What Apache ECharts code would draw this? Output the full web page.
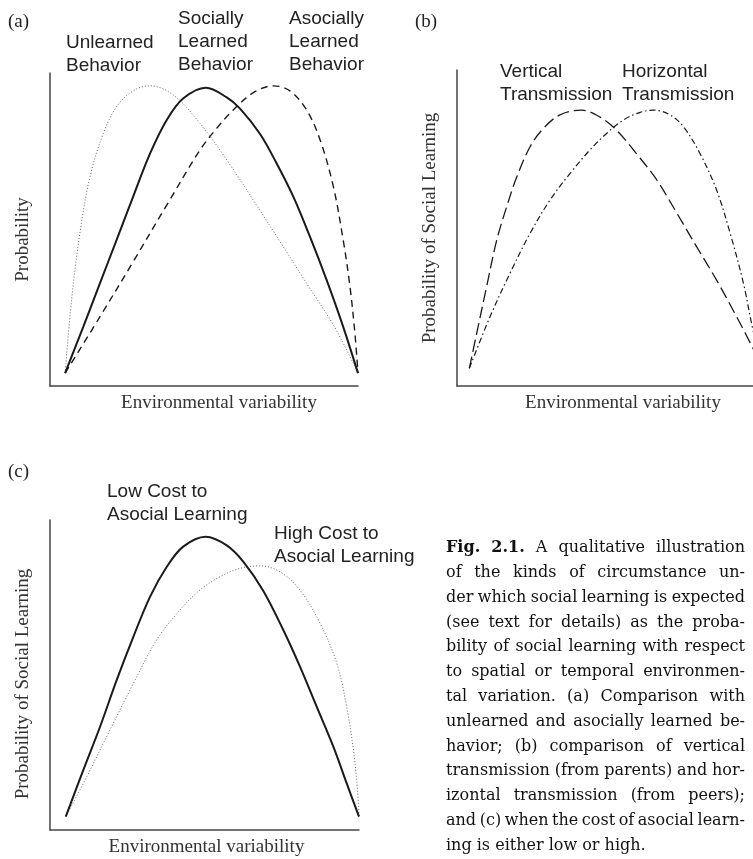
<!DOCTYPE html>
<html>
<head>
<meta charset="utf-8">
<script src="https://cdn.jsdelivr.net/npm/echarts@6/dist/echarts.min.js"></script>
<style>
  html, body { margin: 0; padding: 0; background: #fff; }
  #chart { width: 753px; height: 859px; }
</style>
</head>
<body>
<div id="chart"></div>
<script>
// ---------- Panel (a) ----------
const socialLearned = [[4.9,4.1],[10.8,18.9],[16.2,32.8],[21.6,46.6],[27.0,60.5],[32.5,74.3],[37.9,85.0],[43.3,91.9],[50.6,95.3],[57.4,92.2],[61.7,88.6],[68.2,80.5],[73.6,71.1],[79.0,60.5],[84.4,47.7],[89.8,33.9],[95.2,18.9],[100,4.1]];
const unlearned = [[4.9,4.1],[7.0,27.5],[9.7,48.8],[13.0,66.9],[17.3,80.7],[21.6,89.2],[27.0,94.3],[32.5,95.9],[40.0,93.0],[48.7,83.9],[57.4,72.2],[66.0,59.4],[74.7,46.1],[83.3,32.8],[92.0,19.5],[98.5,7.2],[100,4.1]];
const asociallyLearned = [[4.9,4.1],[16.2,22.1],[27.0,39.7],[37.9,57.8],[48.7,75.4],[54.1,82.3],[59.5,88.2],[66.0,93.7],[72.5,95.9],[77.9,94.3],[83.3,88.2],[87.7,78.6],[92.0,63.7],[95.2,46.6],[97.4,31.7],[99.0,16.8],[100,4.1]];
// ---------- Panel (b) ----------
const verticalTransmission = [[4.0,5.6],[6.4,16.7],[9.6,31.4],[12.9,46.2],[16.1,56.7],[19.4,66.2],[23.7,75.7],[28.0,81.5],[33.4,85.8],[40.4,87.3],[46.4,85.1],[51.8,80.9],[58.3,73.4],[64.8,65.2],[71.3,54.7],[77.7,44.1],[84.2,33.5],[90.7,21.9],[96.0,11.9],[99.1,5.6]];
const horizontalTransmission = [[4.0,5.6],[10.7,21.9],[17.2,35.7],[23.7,48.3],[30.2,58.9],[36.7,67.3],[43.1,74.7],[48.6,80.0],[54.0,84.2],[59.4,86.6],[63.7,87.3],[69.1,85.8],[73.4,82.1],[78.8,73.6],[84.2,62.0],[88.6,48.3],[92.9,32.5],[96.0,17.7],[99.1,5.6]];
// ---------- Panel (c) ----------
const lowCost = [[5.1,4.3],[10.8,19.4],[16.2,33.3],[21.6,48.4],[27.0,62.4],[32.4,75.3],[37.8,84.9],[43.1,91.4],[50.4,94.6],[57.2,91.8],[62.6,86.5],[69.0,77.2],[75.5,64.5],[80.9,52.7],[86.3,39.8],[91.7,26.9],[96.0,15.1],[100,4.3]];
const highCost = [[5.1,4.3],[11.9,17.2],[19.4,32.3],[27.0,47.3],[34.5,61.3],[42.1,71.0],[48.5,77.4],[55.0,81.7],[61.5,84.4],[68.0,85.2],[74.4,83.3],[80.9,77.4],[87.4,66.7],[92.8,53.8],[96.0,39.8],[98.2,25.8],[99.5,12.9],[100,4.3]];

const panelLabels = ['(a)', '(b)', '(c)'];
const xTitle = 'Environmental variability';
const yTitles = ['Probability', 'Probability of Social Learning', 'Probability of Social Learning'];
const curveLabelsA = [['Unlearned', 'Behavior'], ['Socially', 'Learned', 'Behavior'], ['Asocially', 'Learned', 'Behavior']];
const curveLabelsB = [['Vertical', 'Transmission'], ['Horizontal', 'Transmission']];
const curveLabelsC = [['Low Cost to', 'Asocial Learning'], ['High Cost to', 'Asocial Learning']];
const captionLines = [
  'Fig. 2.1. A qualitative illustration',
  'of the kinds of circumstance un-',
  'der which social learning is expected',
  '(see text for details) as the proba-',
  'bility of social learning with respect',
  'to spatial or temporal environmen-',
  'tal variation. (a) Comparison with',
  'unlearned and asocially learned be-',
  'havior; (b) comparison of vertical',
  'transmission (from parents) and hor-',
  'izontal transmission (from peers);',
  'and (c) when the cost of asocial learn-',
  'ing is either low or high.'
];

const SERIF = '"Liberation Serif", "Times New Roman", serif';
const SANS = '"Liberation Sans", Arial, sans-serif';
const CAP_FONT = '"DejaVu Serif", serif';
const INK = '#222';

const chart = echarts.init(document.getElementById('chart'), null, { renderer: 'canvas' });

function xAx(gi, max, pad) {
  return {
    type: 'value', gridIndex: gi, min: 0, max: max,
    axisLine: { show: true, onZero: false, lineStyle: { color: '#444', width: 1.5 } },
    axisTick: { show: false }, axisLabel: { show: false }, splitLine: { show: false },
    name: xTitle, nameLocation: 'middle', nameGap: 8,
    nameTextStyle: { fontFamily: SERIF, fontSize: 19, color: '#333', padding: [0, 0, 0, pad] }
  };
}
function yAx(gi, title, pad) {
  return {
    type: 'value', gridIndex: gi, min: 0, max: 100,
    axisLine: { show: true, onZero: false, lineStyle: { color: '#444', width: 1.5 } },
    axisTick: { show: false }, axisLabel: { show: false }, splitLine: { show: false },
    name: title, nameLocation: 'middle', nameGap: 17, nameRotate: 90,
    nameTextStyle: { fontFamily: SERIF, fontSize: 19, color: '#333', padding: [0, pad, 0, 0] }
  };
}
function line(name, data, gi, style) {
  return {
    type: 'line', name: name, data: data, xAxisIndex: gi, yAxisIndex: gi,
    showSymbol: false, symbol: 'none', smooth: 0.35, clip: true, silent: true,
    lineStyle: style
  };
}

// graphic texts
const graphics = [];
function txt(t, x, y, family, size, opts) {
  opts = opts || {};
  graphics.push({
    type: 'text', x: x, y: y, silent: true,
    style: {
      text: t, fontFamily: family, fontSize: size, fontWeight: opts.bold ? 'bold' : 'normal',
      fill: opts.fill || INK, align: opts.align || 'left', verticalAlign: 'middle'
    }
  });
}
// panel labels
txt(panelLabels[0], 8, 22, SERIF, 19);
txt(panelLabels[1], 415, 22, SERIF, 19);
txt(panelLabels[2], 8, 472, SERIF, 19);
// curve labels
const LH = 23;
function block(lines, x, y0) { lines.forEach((l, i) => txt(l, x, y0 + i * LH, SANS, 19)); }
block(curveLabelsA[0], 66, 43);
block(curveLabelsA[1], 178, 19);
block(curveLabelsA[2], 289, 19);
block(curveLabelsB[0], 500, 72);
block(curveLabelsB[1], 622, 72);
block(curveLabelsC[0], 107, 492);
block(curveLabelsC[1], 274, 534);

// caption, justified
const ctx = document.createElement('canvas').getContext('2d');
const CAP_SIZE = 16;
function mw(t, bold) { ctx.font = (bold ? 'bold ' : '') + CAP_SIZE + 'px "DejaVu Serif"'; return ctx.measureText(t).width; }
const capLeft = 446, capRight = 745, capTop = 548, capStep = 24.8;
captionLines.forEach((ln, i) => {
  const words = ln.split(' ');
  const bolds = words.map((w, j) => i === 0 && j < 2);
  const widths = words.map((w, j) => mw(w, bolds[j]));
  const total = widths.reduce((a, b) => a + b, 0);
  const last = i === captionLines.length - 1;
  let gap = last ? mw(' ', false) : (capRight - capLeft - total) / (words.length - 1);
  gap = Math.max(gap, 2.5);
  let x = capLeft;
  const y = capTop + i * capStep;
  words.forEach((w, j) => {
    txt(w, x, y, CAP_FONT, CAP_SIZE, { bold: bolds[j], fill: '#111' });
    x += widths[j] + gap;
  });
});

const BLACK = '#1a1a1a';
const option = {
  backgroundColor: '#ffffff',
  animation: false,
  grid: [
    { left: 50, top: 73, width: 308, height: 313 },
    { left: 457, top: 70, width: 296, height: 316 },
    { left: 50, top: 520, width: 309, height: 310 }
  ],
  xAxis: [xAx(0, 100, 30), xAx(1, 96, 36), xAx(2, 100, 4)],
  yAxis: [yAx(0, yTitles[0], 20), yAx(1, yTitles[1], 0), yAx(2, yTitles[2], 18)],
  series: [
    line('Unlearned Behavior', unlearned, 0, { color: '#666', width: 1, type: [1, 2] }),
    line('Asocially Learned Behavior', asociallyLearned, 0, { color: BLACK, width: 1.4, type: [7, 5] }),
    line('Socially Learned Behavior', socialLearned, 0, { color: BLACK, width: 2 }),
    line('Vertical Transmission', verticalTransmission, 1, { color: BLACK, width: 1.3, type: [12, 5] }),
    line('Horizontal Transmission', horizontalTransmission, 1, { color: BLACK, width: 1.2, type: [6, 3, 1.5, 3] }),
    line('High Cost to Asocial Learning', highCost, 2, { color: '#666', width: 1, type: [1, 2] }),
    line('Low Cost to Asocial Learning', lowCost, 2, { color: BLACK, width: 2 })
  ],
  graphic: graphics
};
chart.setOption(option);
</script>
</body>
</html>
